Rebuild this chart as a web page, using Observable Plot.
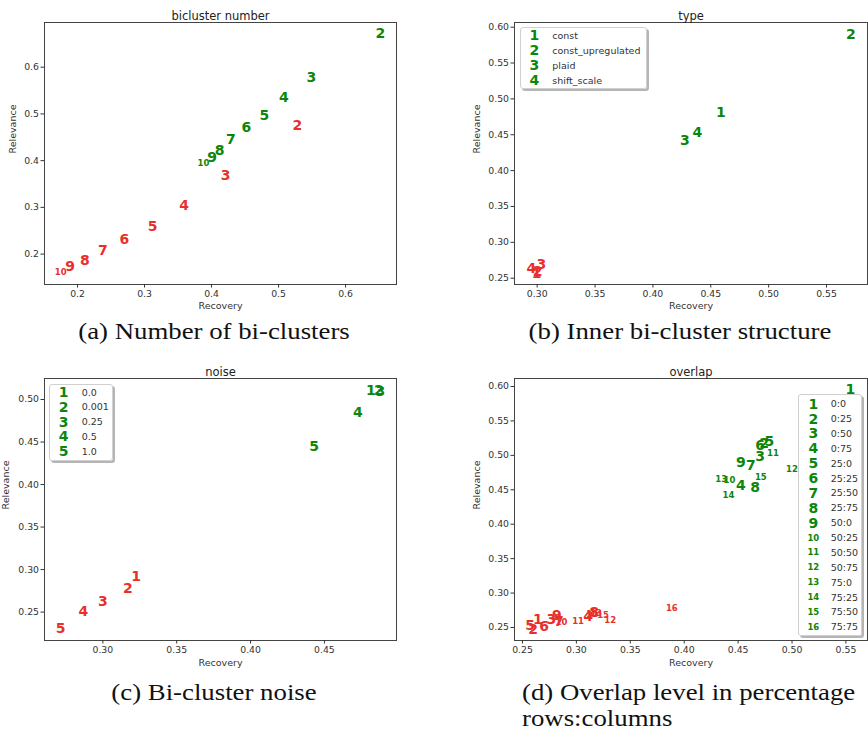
<!DOCTYPE html>
<html>
<head>
<meta charset="utf-8">
<script src="https://cdn.jsdelivr.net/npm/d3@7"></script>
<script src="https://cdn.jsdelivr.net/npm/@observablehq/plot@0.6"></script>
<style>
  html, body { margin: 0; padding: 0; background: #fff; }
  #root { position: relative; width: 868px; height: 731px; overflow: hidden; background: #fff; }
  .panel { position: absolute; }
  .legend { position: absolute; background: rgba(255,255,255,0.95); border: 1px solid #d0d0d0; border-radius: 3px;
            box-shadow: 2px 2px 0 rgba(120,120,120,0.55); box-sizing: border-box; }
  .lrow { position: absolute; font-family: "DejaVu Sans", sans-serif; white-space: nowrap; transform: translateY(-50%); line-height: 1; }
  .cap { position: absolute; font-family: "Liberation Serif", serif; font-size: 23.5px; color: #111; white-space: nowrap; line-height: 26px; }
</style>
</head>
<body>
<div id="root"></div>
<script>
// ---------- (a) bicluster number ----------
const aLabels = ["2","3","4","5","6","7","8","9","10"];
const aRedRecovery   = [0.528, 0.421, 0.359, 0.312, 0.270, 0.238, 0.211, 0.189, 0.175];
const aRedRelevance  = [0.475, 0.369, 0.303, 0.258, 0.231, 0.207, 0.187, 0.174, 0.161];
const aGreenRecovery = [0.652, 0.549, 0.508, 0.479, 0.452, 0.429, 0.412, 0.401, 0.388];
const aGreenRelevance= [0.671, 0.577, 0.536, 0.497, 0.470, 0.445, 0.421, 0.407, 0.395];
const aXTicks = [0.2, 0.3, 0.4, 0.5, 0.6];
const aYTicks = [0.2, 0.3, 0.4, 0.5, 0.6];

// ---------- (b) type ----------
const bLabels = ["1","2","3","4"];
const bLegend = ["const","const_upregulated","plaid","shift_scale"];
const bRedRecovery   = [0.2996, 0.3003, 0.3037, 0.2950];
const bRedRelevance  = [0.2565, 0.2600, 0.2695, 0.2635];
const bGreenRecovery = [0.4587, 0.5710, 0.4276, 0.4385];
const bGreenRelevance= [0.4815, 0.5900, 0.4415, 0.4531];
const bXTicks = [0.30, 0.35, 0.40, 0.45, 0.50, 0.55];
const bYTicks = [0.25, 0.30, 0.35, 0.40, 0.45, 0.50, 0.55, 0.60];

// ---------- (c) noise ----------
const cLabels = ["1","2","3","4","5"];
const cLegend = ["0.0","0.001","0.25","0.5","1.0"];
const cRedRecovery   = [0.3226, 0.3170, 0.3000, 0.2869, 0.2715];
const cRedRelevance  = [0.2914, 0.2776, 0.2622, 0.2508, 0.2304];
const cGreenRecovery = [0.4815, 0.4868, 0.4879, 0.4727, 0.4430];
const cGreenRelevance= [0.5110, 0.5100, 0.5090, 0.4847, 0.4443];
const cXTicks = [0.30, 0.35, 0.40, 0.45];
const cYTicks = [0.25, 0.30, 0.35, 0.40, 0.45, 0.50];

// ---------- (d) overlap ----------
const dLabels = ["1","2","3","4","5","6","7","8","9","10","11","12","13","14","15","16"];
const dLegend = ["0:0","0:25","0:50","0:75","25:0","25:25","25:50","25:75","50:0","50:25","50:50","50:75","75:0","75:25","75:50","75:75"];
const dRedRecovery   = [0.2642, 0.2599, 0.2769, 0.3109, 0.2571, 0.2701, 0.2837, 0.3165, 0.2818, 0.2862, 0.3016, 0.3313, 0.3183, 0.3146, 0.3248, 0.3885];
const dRedRelevance  = [0.2610, 0.2465, 0.2620, 0.2659, 0.2528, 0.2513, 0.2591, 0.2722, 0.2673, 0.2571, 0.2586, 0.2610, 0.2707, 0.2697, 0.2683, 0.2780];
const dGreenRecovery = [0.5542, 0.4742, 0.4705, 0.4526, 0.4791, 0.4705, 0.4618, 0.4658, 0.4526, 0.4420, 0.4823, 0.4999, 0.4343, 0.4411, 0.4711, null];
const dGreenRelevance= [0.5957, 0.5171, 0.4986, 0.4564, 0.5194, 0.5146, 0.4851, 0.4531, 0.4903, 0.4637, 0.5034, 0.4793, 0.4647, 0.4419, 0.4685, null];
const dXTicks = [0.25, 0.30, 0.35, 0.40, 0.45, 0.50, 0.55];
const dYTicks = [0.25, 0.30, 0.35, 0.40, 0.45, 0.50, 0.55, 0.60];

const RED = "#e8302b";
const GREEN = "#0b860b";
const markerSize = s => (s.length > 1 ? 8.5 : 14);

function rows(labels, xs, ys) {
  return labels.map((l, i) => ({label: l, x: xs[i], y: ys[i]})).filter(d => d.x != null && d.y != null);
}

function panel(o) {
  const red = rows(o.labels, o.redX, o.redY);
  const green = rows(o.labels, o.greenX, o.greenY);
  const fmt = d3.format(o.fmt);
  return Plot.plot({
    width: o.width, height: o.height,
    marginLeft: o.ml, marginRight: o.mr, marginTop: o.mt, marginBottom: o.mb,
    x: {domain: o.xDomain, label: null},
    y: {domain: o.yDomain, label: null},
    style: {fontFamily: "DejaVu Sans, sans-serif", fontSize: "9px", color: "#333", background: "white", overflow: "visible"},
    marks: [
      Plot.frame({stroke: "#444", strokeWidth: 1}),
      Plot.axisX({ticks: o.xTicks, tickFormat: fmt, tickSize: 3.5, tickPadding: 2, label: null, fontSize: 9.3}),
      Plot.axisY({ticks: o.yTicks, tickFormat: fmt, tickSize: 3.5, tickPadding: 2, label: null, fontSize: 9.3}),
      Plot.text(red, {x: "x", y: "y", text: "label", fill: RED, fontWeight: "bold", fontSize: d => markerSize(d.label), fontFamily: "DejaVu Sans"}),
      Plot.text(green, {x: "x", y: "y", text: "label", fill: GREEN, fontWeight: "bold", fontSize: d => markerSize(d.label), fontFamily: "DejaVu Sans"}),
      Plot.text([o.title], {text: d => d, frameAnchor: "top", dy: o.titleDy, fontSize: 11.5, fill: "#222"}),
      Plot.text(["Recovery"], {text: d => d, frameAnchor: "bottom", dy: o.xLabelDy, fontSize: 9.5, fill: "#333"}),
      Plot.text(["Relevance"], {text: d => d, frameAnchor: "left", dx: o.yLabelDx, rotate: -90, fontSize: 9.5, fill: "#333"})
    ]
  });
}

function legend(root, box, labels, names, markerX, labelX, rowY, rowStep) {
  const div = document.createElement("div");
  div.className = "legend";
  Object.assign(div.style, {left: box[0] + "px", top: box[1] + "px", width: (box[2] - box[0]) + "px", height: (box[3] - box[1]) + "px"});
  root.appendChild(div);
  labels.forEach((l, i) => {
    const y = rowY + i * rowStep - box[1];
    const m = document.createElement("div");
    m.className = "lrow";
    m.textContent = l;
    Object.assign(m.style, {left: (markerX - box[0]) + "px", top: y + "px", color: GREEN, fontWeight: "bold",
      fontSize: markerSize(l) + "px", transform: "translate(-50%,-50%)"});
    div.appendChild(m);
    const t = document.createElement("div");
    t.className = "lrow";
    t.textContent = names[i];
    Object.assign(t.style, {left: (labelX - box[0]) + "px", top: (y + 0.5) + "px", color: "#333", fontSize: "9.5px"});
    div.appendChild(t);
  });
}

const root = document.getElementById("root");
function place(el, left, top) {
  const w = document.createElement("div");
  w.className = "panel";
  w.style.left = left + "px"; w.style.top = top + "px";
  w.appendChild(el);
  root.appendChild(w);
}

place(panel({title: "bicluster number", labels: aLabels, redX: aRedRecovery, redY: aRedRelevance, greenX: aGreenRecovery, greenY: aGreenRelevance,
  xDomain: [0.1507, 0.676], yDomain: [0.135, 0.6956], xTicks: aXTicks, yTicks: aYTicks, fmt: ".1f",
  width: 434, height: 316, ml: 44, mr: 38, mt: 22, mb: 32, titleDy: -11, xLabelDy: 24, yLabelDx: -32}), 0, 0);

place(panel({title: "type", labels: bLabels, redX: bRedRecovery, redY: bRedRelevance, greenX: bGreenRecovery, greenY: bGreenRelevance,
  xDomain: [0.2804, 0.5854], yDomain: [0.2412, 0.6065], xTicks: bXTicks, yTicks: bYTicks, fmt: ".2f",
  width: 434, height: 316, ml: 80, mr: 1, mt: 22, mb: 32, titleDy: -11, xLabelDy: 24, yLabelDx: -38}), 434, 0);

place(panel({title: "noise", labels: cLabels, redX: cRedRecovery, redY: cRedRelevance, greenX: cGreenRecovery, greenY: cGreenRelevance,
  xDomain: [0.2605, 0.4988], yDomain: [0.2166, 0.5247], xTicks: cXTicks, yTicks: cYTicks, fmt: ".2f",
  width: 434, height: 320, ml: 44, mr: 38, mt: 23, mb: 35, titleDy: -11, xLabelDy: 25, yLabelDx: -39}), 0, 355);

place(panel({title: "overlap", labels: dLabels, redX: dRedRecovery, redY: dRedRelevance, greenX: dGreenRecovery, greenY: dGreenRelevance,
  xDomain: [0.2426, 0.570], yDomain: [0.2311, 0.6116], xTicks: dXTicks, yTicks: dYTicks, fmt: ".2f",
  width: 434, height: 320, ml: 80, mr: 1, mt: 23, mb: 35, titleDy: -11, xLabelDy: 25, yLabelDx: -38}), 434, 355);

legend(root, [520, 27, 647, 89], bLabels, bLegend, 533.3, 551.3, 34.3, 15);
legend(root, [49, 384, 113, 461], cLabels, cLegend, 62.7, 80.7, 391, 14.8);
legend(root, [798, 394, 862, 636], dLabels, dLegend, 812.3, 829.7, 402.7, 14.87);

function caption(text, left, top, center) {
  const c = document.createElement("div");
  c.className = "cap";
  c.textContent = text;
  c.style.top = top + "px";
  if (center != null) { c.style.left = center + "px"; c.style.transform = "translateX(-50%) scaleX(1.14)"; }
  else { c.style.left = left + "px"; c.style.transformOrigin = "0 0"; c.style.transform = "scaleX(1.14)"; }
  root.appendChild(c);
}
caption("(a) Number of bi-clusters", null, 318, 214);
caption("(b) Inner bi-cluster structure", null, 318, 680);
caption("(c) Bi-cluster noise", null, 679, 214);
caption("(d) Overlap level in percentage", 522, 679);
caption("rows:columns", 522, 705);
</script>
</body>
</html>
